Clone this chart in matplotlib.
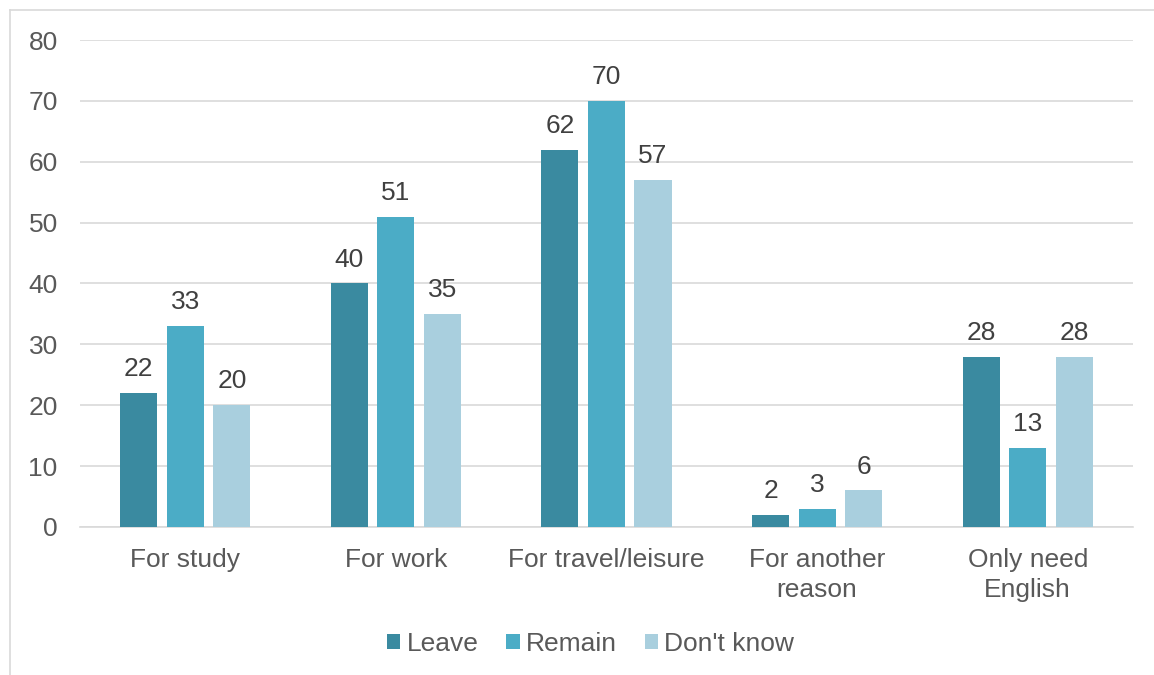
import matplotlib
matplotlib.use("Agg")
import matplotlib.pyplot as plt
import numpy as np

categories = ["For study", "For work", "For travel/leisure", "For another\nreason", "Only need\nEnglish"]
series_names = ["Leave", "Remain", "Don't know"]
leave = [22, 40, 62, 2, 28]
remain = [33, 51, 70, 3, 13]
dont_know = [20, 35, 57, 6, 28]
colors = ["#3A8AA0", "#4BACC6", "#A9CFDE"]

plt.rcParams["font.family"] = ["Liberation Sans", "DejaVu Sans"]
FS = 19

fig = plt.figure(figsize=(11.54, 6.75), dpi=100)
ax = fig.add_axes([0.0693, 0.2193, 0.9125, 0.7214])

x = np.arange(len(categories))
width = 0.176
step = 0.221
for i, (vals, name, c) in enumerate(zip([leave, remain, dont_know], series_names, colors)):
    bars = ax.bar(x + (i - 1) * step, vals, width, color=c, label=name, zorder=3)
    for b, v in zip(bars, vals):
        ax.annotate(str(v), (b.get_x() + b.get_width() / 2, v), xytext=(0, 12.2),
                    textcoords="offset points", ha="center", va="baseline",
                    fontsize=FS, color="#404040")

ax.set_xlim(-0.5, len(categories) - 0.5)
ax.set_ylim(0, 80)
ax.set_yticks(range(0, 81, 10))
ax.yaxis.grid(True, color="#D9D9D9", linewidth=1.2, zorder=0)
ax.set_axisbelow(True)
for s in ["top", "right", "left"]:
    ax.spines[s].set_visible(False)
ax.spines["bottom"].set_color("#D9D9D9")
ax.spines["bottom"].set_linewidth(1.2)
ax.tick_params(axis="both", length=0, labelsize=FS, colors="#595959")
ax.tick_params(axis="y", pad=16)
ax.set_xticks(x)
ax.set_xticklabels(categories, linespacing=1.35)
ax.tick_params(axis="x", pad=15)

leg = fig.legend(loc="center", bbox_to_anchor=(0.5117, 0.046), ncol=3, frameon=False,
                 fontsize=FS, handlelength=0.5, handleheight=0.5, handletextpad=0.23,
                 columnspacing=1.06)
for t in leg.get_texts():
    t.set_color("#595959")

# outer chart frame
fig.add_artist(plt.Line2D([10 / 1154, 1.0], [1 - 10 / 675, 1 - 10 / 675], transform=fig.transFigure,
                          color="#D9D9D9", linewidth=1.2))
fig.add_artist(plt.Line2D([10 / 1154, 10 / 1154], [0, 1 - 10 / 675], transform=fig.transFigure,
                          color="#D9D9D9", linewidth=1.2))

fig.savefig("out.png", dpi=100)
